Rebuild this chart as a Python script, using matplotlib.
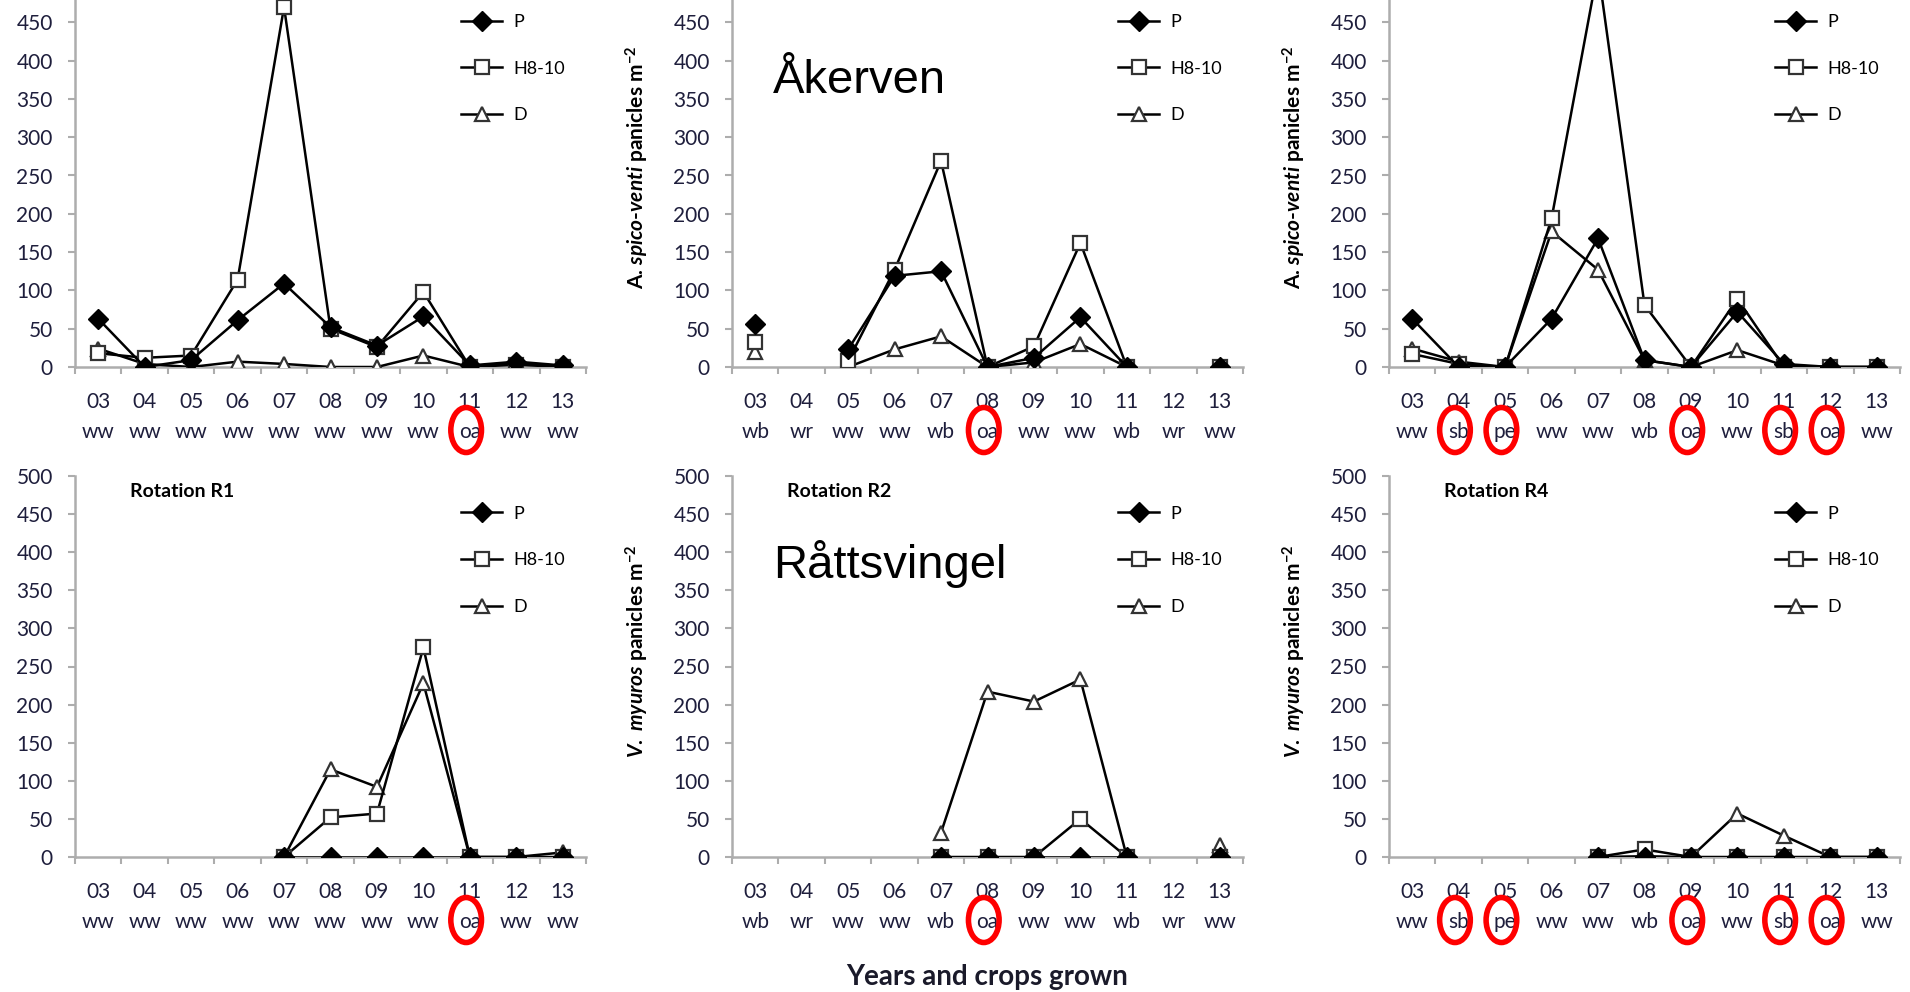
import numpy as np
import matplotlib
matplotlib.use("Agg")
import matplotlib.pyplot as plt
from matplotlib.patches import Ellipse
from matplotlib.lines import Line2D
from matplotlib.transforms import blended_transform_factory

nan = np.nan

# ---- data ----
years = ['03', '04', '05', '06', '07', '08', '09', '10', '11', '12', '13']
crops_r1 = ['ww', 'ww', 'ww', 'ww', 'ww', 'ww', 'ww', 'ww', 'oa', 'ww', 'ww']
crops_r2 = ['wb', 'wr', 'ww', 'ww', 'wb', 'oa', 'ww', 'ww', 'wb', 'wr', 'ww']
crops_r4 = ['ww', 'sb', 'pe', 'ww', 'ww', 'wb', 'oa', 'ww', 'sb', 'oa', 'ww']
circled_r1 = [8]
circled_r2 = [5]
circled_r4 = [1, 2, 6, 8, 9]

# A. spica-venti panicles m-2
aspica_r1_p = [63, 0, 9, 61, 109, 52, 28, 66, 2, 7, 2]
aspica_r1_h = [18, 12, 15, 114, 470, 50, 26, 98, 0, 3, 0]
aspica_r1_d = [24, 4, 0, 7, 4, 0, 0, 15, 0, 5, 0]

aspica_r2_p = [56, nan, 23, 119, 125, 0, 12, 65, 0, nan, 0]
aspica_r2_h = [32, nan, 8, 127, 269, 0, 27, 162, 0, nan, 0]
aspica_r2_d = [19, nan, 0, 23, 40, 0, 6, 30, 0, nan, 0]

aspica_r4_p = [63, 0, 0, 63, 168, 9, 0, 72, 4, 0, 0]
aspica_r4_h = [17, 4, 0, 194, 520, 81, 0, 89, 0, 0, 0]
aspica_r4_d = [24, 7, 0, 177, 127, 9, 0, 22, 2, 0, 0]

# V. myuros panicles m-2
vmyuros_r1_p = [nan, nan, nan, nan, 0, 0, 0, 0, 0, 0, 0]
vmyuros_r1_h = [nan, nan, nan, nan, 0, 52, 57, 275, 0, 0, 0]
vmyuros_r1_d = [nan, nan, nan, nan, 0, 115, 92, 228, 0, 0, 6]

vmyuros_r2_p = [nan, nan, nan, nan, 0, 0, 0, 0, 0, nan, 0]
vmyuros_r2_h = [nan, nan, nan, nan, 0, 0, 0, 50, 0, nan, 0]
vmyuros_r2_d = [nan, nan, nan, nan, 32, 217, 204, 233, 0, nan, 16]

vmyuros_r4_p = [nan, nan, nan, nan, 0, 0, 0, 0, 0, 0, 0]
vmyuros_r4_h = [nan, nan, nan, nan, 0, 10, 0, 0, 0, 0, 0]
vmyuros_r4_d = [nan, nan, nan, nan, 0, 1, 0, 57, 28, 0, 0]

series_names = ['P', 'H8-10', 'D']

plt.rcParams['font.family'] = ['Lato', 'DejaVu Sans']
plt.rcParams['mathtext.fontset'] = 'custom'
plt.rcParams['mathtext.rm'] = 'Lato:bold'
plt.rcParams['mathtext.it'] = 'Lato:bold:italic'
plt.rcParams['mathtext.bf'] = 'Lato:bold'

W, H = 1910, 992
fig = plt.figure(figsize=(W / 100, H / 100), dpi=100)

tick_color = '#1e1e3c'
axis_color = '#ADADAD'
styles = [
    dict(marker='D', markersize=10.5, markerfacecolor='black', markeredgecolor='black', zorder=5),
    dict(marker='s', markersize=10.5, markerfacecolor='white', markeredgecolor='#333333', markeredgewidth=1.6, zorder=4),
    dict(marker='^', markersize=10.5, markerfacecolor='white', markeredgecolor='#333333', markeredgewidth=1.6, zorder=3),
]


def px_rect(left, bottom, width, height):
    # left/bottom in px from top-left corner of the picture
    return [left / W, 1 - bottom / H, width / W, height / H]


def make_panel(rect, values, crops, circled, ymax_tick, ylabel=None, label_y=0.5, title=None):
    ax = fig.add_axes(rect)
    x = np.arange(len(years))
    for vals, st in zip(values, styles):
        ax.plot(x, vals, color='black', lw=1.8, **st)

    ax.set_xlim(-0.5, len(years) - 0.5)
    ax.set_ylim(0, 500)
    ax.set_yticks(np.arange(0, ymax_tick + 1, 50))
    ax.set_xticks(x)
    ax.set_xticklabels([f"{y}\n{c}" for y, c in zip(years, crops)])
    ax.set_xticks(np.arange(-0.5, len(years)), minor=True)
    for t in ax.get_xticklabels():
        t.set_linespacing(1.6)

    for s in ['top', 'right']:
        ax.spines[s].set_visible(False)
    for s in ['left', 'bottom']:
        ax.spines[s].set_color(axis_color)
        ax.spines[s].set_linewidth(1.8)
    ax.tick_params(axis='x', which='major', length=0, pad=18, labelsize=15, labelcolor=tick_color)
    ax.tick_params(axis='x', which='minor', length=5, width=1.5, color=axis_color, direction='out')
    ax.tick_params(axis='y', length=5, width=1.5, color=axis_color, pad=11, labelsize=15, labelcolor=tick_color)

    handles = [Line2D([], [], color='black', lw=1.8, **st) for st in styles]
    ax.legend(handles, series_names, loc='upper left', bbox_to_anchor=(0.755, 0.922),
              frameon=False, handlelength=2.3, handletextpad=0.6, labelspacing=1.7,
              borderpad=0, borderaxespad=0, fontsize=13, numpoints=1)

    if ylabel:
        ax.set_ylabel(ylabel, fontsize=15, fontweight='bold', color='black')
        ax.yaxis.set_label_coords(-0.158, label_y)
    if title:
        ax.text(0.108, 0.96, title, transform=ax.transAxes, fontsize=14,
                fontweight='bold', va='center', ha='left')

    # red rings around the non-cereal crops
    tr = blended_transform_factory(ax.transData, ax.transAxes)
    pos = ax.get_position()
    h_px = pos.height * H
    for i in circled:
        e = Ellipse((i - 0.08, -63 / h_px), 0.66, 45 / h_px, transform=tr,
                    fill=False, edgecolor='#FF0000', lw=4, clip_on=False, zorder=10)
        ax.add_patch(e)
    return ax


lefts = [75, 732, 1389]
aw = 511
top_rect = lambda l: px_rect(l, 367, aw, 383)
bot_rect = lambda l: px_rect(l, 857, aw, 381)

lab_a = r"A. $\mathit{spico}$-$\mathit{venti}$ panicles m$^{-2}$"
lab_v = r"$\mathit{V.\ myuros}$ panicles m$^{-2}$"

make_panel(top_rect(lefts[0]), [aspica_r1_p, aspica_r1_h, aspica_r1_d], crops_r1, circled_r1, 450)
make_panel(top_rect(lefts[1]), [aspica_r2_p, aspica_r2_h, aspica_r2_d], crops_r2, circled_r2, 450,
           ylabel=lab_a, label_y=0.52)
make_panel(top_rect(lefts[2]), [aspica_r4_p, aspica_r4_h, aspica_r4_d], crops_r4, circled_r4, 450,
           ylabel=lab_a, label_y=0.52)

make_panel(bot_rect(lefts[0]), [vmyuros_r1_p, vmyuros_r1_h, vmyuros_r1_d], crops_r1, circled_r1, 500,
           title='Rotation R1')
make_panel(bot_rect(lefts[1]), [vmyuros_r2_p, vmyuros_r2_h, vmyuros_r2_d], crops_r2, circled_r2, 500,
           ylabel=lab_v, label_y=0.54, title='Rotation R2')
make_panel(bot_rect(lefts[2]), [vmyuros_r4_p, vmyuros_r4_h, vmyuros_r4_d], crops_r4, circled_r4, 500,
           ylabel=lab_v, label_y=0.54, title='Rotation R4')

fig.text(773 / W, 1 - 93 / H, 'Åkerven', fontsize=34, family='Liberation Sans', va='baseline')
fig.text(773 / W, 1 - 578 / H, 'Råttsvingel', fontsize=34, family='Liberation Sans', va='baseline')
fig.text(987 / W, 1 - 977 / H, 'Years and crops grown', fontsize=20, fontweight='bold',
         ha='center', va='center', color='#1a1a2a')

fig.savefig('out.png', dpi=100)
